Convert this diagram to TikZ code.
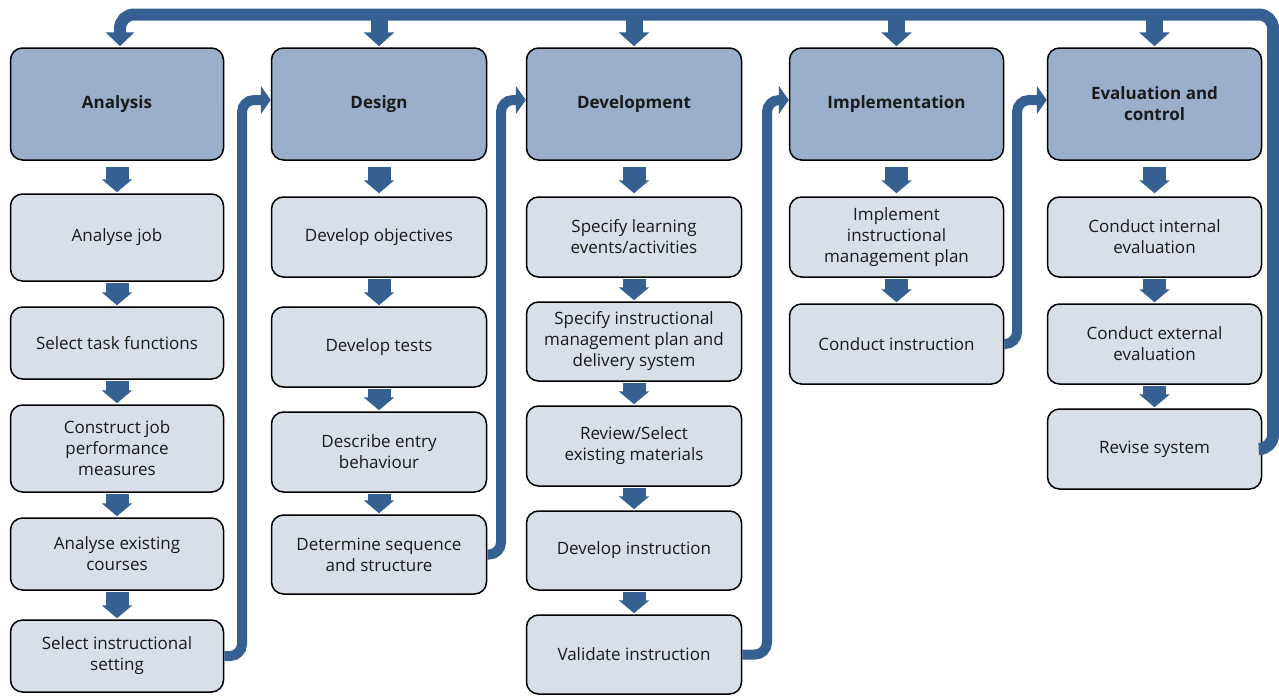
\documentclass[tikz,border=0pt]{standalone}
\usepackage{fontspec}
\setmainfont{Open Sans}
\usetikzlibrary{arrows.meta,calc}
\definecolor{arr}{RGB}{54,96,146}
\definecolor{hdr}{RGB}{154,175,203}
\definecolor{sub}{RGB}{216,223,233}
\definecolor{txt}{RGB}{26,26,26}
\newcommand\blkarrow[2]{\draw[blk] ($(#1.south)+(0,1)$) -- ($(#2.north)+(0,-1)$);}
\begin{document}
\begin{tikzpicture}[x=1pt,y=-1pt,
  box/.style={draw=black, line width=1.5pt, rounded corners=12pt, align=center, text=txt, inner sep=0pt, font=\fontsize{17}{21}\selectfont},
  hdrbox/.style={box, fill=hdr, minimum height=112pt, font=\fontsize{17}{21}\selectfont\bfseries},
  subbox/.style={box, fill=sub},
  blk/.style={draw=arr, line width=23pt, -{Triangle[width=30pt,length=13pt]}},
  topblk/.style={draw=arr, line width=17pt, -{Triangle[width=30pt,length=14pt]}},
  loopline/.style={draw=arr, line width=12pt, rounded corners=14pt, -{Triangle[width=28pt,length=14pt]}},
  conn/.style={draw=arr, line width=10pt, rounded corners=12pt, -{Triangle[width=28pt,length=10pt]}}
]
\useasboundingbox (0,0) rectangle (1279,696);
% column 1
\node[hdrbox, minimum width=213pt] (H1) at (117,104) {Analysis};
\node[subbox, minimum width=213pt, minimum height=87pt] (A1) at (117,237.5) {Analyse job};
\node[subbox, minimum width=213pt, minimum height=72pt] (A2) at (117,343) {Select task functions};
\node[subbox, minimum width=213pt, minimum height=87pt] (A3) at (117,448.5) {Construct job\\performance\\measures};
\node[subbox, minimum width=213pt, minimum height=72pt] (A4) at (117,554) {Analyse existing\\courses};
\node[subbox, minimum width=213pt, minimum height=72pt] (A5) at (117,656) {Select instructional\\setting};
% column 2
\node[hdrbox, minimum width=215pt] (H2) at (379,104) {Design};
\node[subbox, minimum width=215pt, minimum height=80pt] (B1) at (379,237) {Develop objectives};
\node[subbox, minimum width=215pt, minimum height=80pt] (B2) at (379,347) {Develop tests};
\node[subbox, minimum width=215pt, minimum height=80pt] (B3) at (379,452) {Describe entry\\behaviour};
\node[subbox, minimum width=215pt, minimum height=79pt] (B4) at (379,554.5) {Determine sequence\\and structure};
% column 3
\node[hdrbox, minimum width=215pt] (H3) at (634,104) {Development};
\node[subbox, minimum width=215pt, minimum height=80pt] (C1) at (634,237) {Specify learning\\events/activities};
\node[subbox, minimum width=215pt, minimum height=79pt] (C2) at (634,341.5) {Specify instructional\\management plan and\\delivery system};
\node[subbox, minimum width=215pt, minimum height=80pt] (C3) at (634,446) {Review/Select\\existing materials};
\node[subbox, minimum width=215pt, minimum height=79pt] (C4) at (634,550.5) {Develop instruction};
\node[subbox, minimum width=215pt, minimum height=79pt] (C5) at (634,654.5) {Validate instruction};
% column 4
\node[hdrbox, minimum width=214pt] (H4) at (896.5,104) {Implementation};
\node[subbox, minimum width=214pt, minimum height=80pt] (D1) at (896.5,237) {Implement\\instructional\\management plan};
\node[subbox, minimum width=214pt, minimum height=80pt] (D2) at (896.5,344) {Conduct instruction};
% column 5
\node[hdrbox, minimum width=214pt] (H5) at (1154.5,104) {Evaluation and\\control};
\node[subbox, minimum width=214pt, minimum height=80pt] (E1) at (1154.5,237) {Conduct internal\\evaluation};
\node[subbox, minimum width=214pt, minimum height=80pt] (E2) at (1154.5,344) {Conduct external\\evaluation};
\node[subbox, minimum width=214pt, minimum height=80pt] (E3) at (1154.5,449) {Revise system};
% block arrows
\draw[blk] ($(H1.south)+(0,6)$) -- ($(A1.north)+(0,-1)$);
\blkarrow{A1}{A2}\blkarrow{A2}{A3}\blkarrow{A3}{A4}\blkarrow{A4}{A5}
\draw[blk] ($(H2.south)+(0,6)$) -- ($(B1.north)+(0,-3)$);
\blkarrow{B1}{B2}\blkarrow{B2}{B3}\blkarrow{B3}{B4}
\draw[blk] ($(H3.south)+(0,6)$) -- ($(C1.north)+(0,-3)$);
\blkarrow{C1}{C2}\blkarrow{C2}{C3}\blkarrow{C3}{C4}\blkarrow{C4}{C5}
\draw[blk] ($(H4.south)+(0,6)$) -- ($(D1.north)+(0,-3)$);
\blkarrow{D1}{D2}
\draw[blk] ($(H5.south)+(0,6)$) -- ($(E1.north)+(0,-3)$);
\blkarrow{E1}{E2}\blkarrow{E2}{E3}
% column connectors
\coordinate (k1) at (242,100);
\coordinate (k2) at (501,100);
\coordinate (k3) at (767,100);
\coordinate (k4) at (1017,100);
\draw[conn] (A5.east) -| (k1) -- (H2.west |- k1);
\draw[conn] (B4.east) -| (k2) -- (H3.west |- k2);
\draw[conn] (C5.east) -| (k3) -- (H4.west |- k3);
\draw[conn] (D2.east) -| (k4) -- (H5.west |- k4);
% feedback loop
\coordinate (topR) at (1273,14.5);
\draw[loopline] (E3.east) -| (topR) -| ($(H1.north)+(3,-1)$);
\draw[topblk] (H2.north |- topR) -- ($(H2.north)+(0,-1)$);
\draw[topblk] (H3.north |- topR) -- ($(H3.north)+(0,-1)$);
\draw[topblk] (H4.north |- topR) -- ($(H4.north)+(0,-1)$);
\draw[topblk] (H5.north |- topR) -- ($(H5.north)+(0,-1)$);
\end{tikzpicture}
\end{document}
